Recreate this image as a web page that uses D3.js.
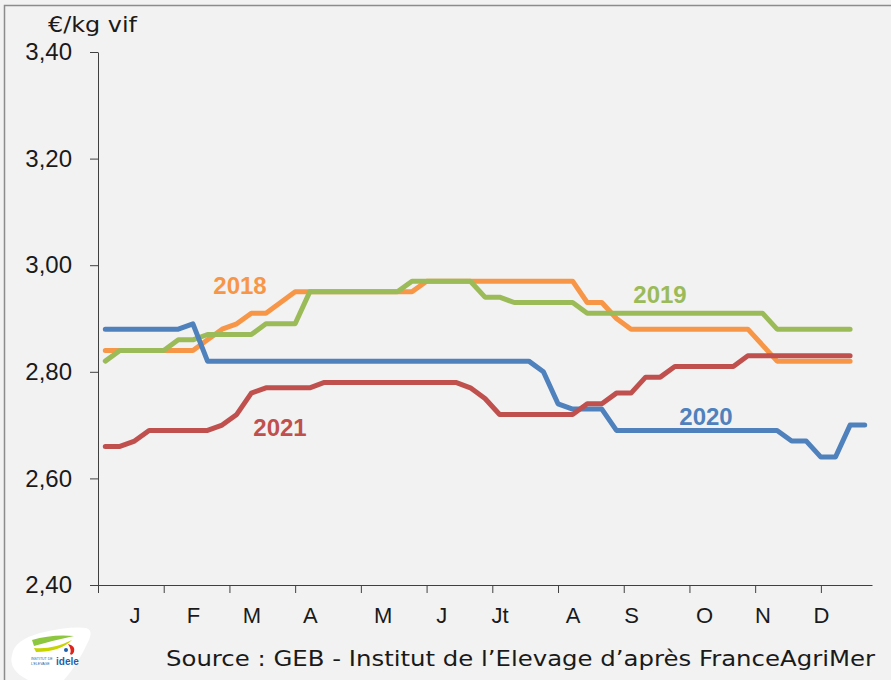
<html>
<script src="https://d3js.org/d3.v7.min.js"></script>
<style>
  body { margin: 0; background: #f2f2f2; }
  text { font-family: "Liberation Sans", Arial, sans-serif; }
  text.wide { font-family: "DejaVu Sans", sans-serif; }
</style>
<body>
<svg class="chart" width="891" height="680"></svg>
<script>
// weekly prices, euro per kg live weight
var weeks = d3.range(1, 54);

var y2018 = [2.84, 2.84, 2.84, 2.84, 2.84, 2.84, 2.84, 2.86, 2.88, 2.89,
             2.91, 2.91, 2.93, 2.95, 2.95, 2.95, 2.95, 2.95, 2.95, 2.95,
             2.95, 2.95, 2.97, 2.97, 2.97, 2.97, 2.97, 2.97, 2.97, 2.97,
             2.97, 2.97, 2.97, 2.93, 2.93, 2.90, 2.88, 2.88, 2.88, 2.88,
             2.88, 2.88, 2.88, 2.88, 2.88, 2.85, 2.82, 2.82, 2.82, 2.82,
             2.82, 2.82];
var y2019 = [2.82, 2.84, 2.84, 2.84, 2.84, 2.86, 2.86, 2.87, 2.87, 2.87,
             2.87, 2.89, 2.89, 2.89, 2.95, 2.95, 2.95, 2.95, 2.95, 2.95,
             2.95, 2.97, 2.97, 2.97, 2.97, 2.97, 2.94, 2.94, 2.93, 2.93,
             2.93, 2.93, 2.93, 2.91, 2.91, 2.91, 2.91, 2.91, 2.91, 2.91,
             2.91, 2.91, 2.91, 2.91, 2.91, 2.91, 2.88, 2.88, 2.88, 2.88,
             2.88, 2.88];
var y2020 = [2.88, 2.88, 2.88, 2.88, 2.88, 2.88, 2.89, 2.82, 2.82, 2.82,
             2.82, 2.82, 2.82, 2.82, 2.82, 2.82, 2.82, 2.82, 2.82, 2.82,
             2.82, 2.82, 2.82, 2.82, 2.82, 2.82, 2.82, 2.82, 2.82, 2.82,
             2.80, 2.74, 2.73, 2.73, 2.73, 2.69, 2.69, 2.69, 2.69, 2.69,
             2.69, 2.69, 2.69, 2.69, 2.69, 2.69, 2.69, 2.67, 2.67, 2.64,
             2.64, 2.70, 2.70];
var y2021 = [2.66, 2.66, 2.67, 2.69, 2.69, 2.69, 2.69, 2.69, 2.70, 2.72,
             2.76, 2.77, 2.77, 2.77, 2.77, 2.78, 2.78, 2.78, 2.78, 2.78,
             2.78, 2.78, 2.78, 2.78, 2.78, 2.77, 2.75, 2.72, 2.72, 2.72,
             2.72, 2.72, 2.72, 2.74, 2.74, 2.76, 2.76, 2.79, 2.79, 2.81,
             2.81, 2.81, 2.81, 2.81, 2.83, 2.83, 2.83, 2.83, 2.83, 2.83,
             2.83, 2.83];

var yTicks = [2.40, 2.60, 2.80, 3.00, 3.20, 3.40];
var xTicks = [0.5, 5, 9.5, 14, 18.5, 23, 27.5, 32, 36.5, 41, 45.5, 50];
var monthWeeks = [3, 7, 11, 15, 20, 24, 28, 33, 37, 42, 46, 50];
var monthLabels = ["J", "F", "M", "A", "M", "J", "Jt", "A", "S", "O", "N", "D"];

var series = [
  {name: "2018", values: y2018, color: "#f79646", lx: 240, ly: 294},
  {name: "2019", values: y2019, color: "#9bbb59", lx: 660, ly: 303},
  {name: "2020", values: y2020, color: "#4f81bd", lx: 706, ly: 425},
  {name: "2021", values: y2021, color: "#c0504d", lx: 280, ly: 436}
];

var svg = d3.select(".chart");

// frame
svg.append("rect")
  .attr("x", 4.5).attr("y", 5.5)
  .attr("width", 1000).attr("height", 1000)
  .attr("fill", "#f2f2f2")
  .attr("stroke", "#8c8c8c").attr("stroke-width", 1.5);

var x = d3.scaleLinear().domain([0.5, 53.5]).range([98, 872]);
var y = d3.scaleLinear().domain([2.4, 3.4]).range([585, 52]);

var fmt = function(d) { return d3.format(".2f")(d).replace(".", ","); };

// y axis
var gy = svg.append("g")
  .attr("transform", "translate(98,0)")
  .call(d3.axisLeft(y).tickValues(yTicks).tickFormat(fmt).tickSize(8).tickSizeOuter(0).tickPadding(18));
gy.selectAll("text").attr("font-size", 24).attr("fill", "#1a1a1a");

// x axis ticks
var gx = svg.append("g")
  .attr("transform", "translate(0,585)")
  .call(d3.axisBottom(x).tickValues(xTicks).tickFormat("").tickSize(8).tickSizeOuter(0));

// month labels
var gm = svg.append("g")
  .attr("transform", "translate(0,585)")
  .call(d3.axisBottom(x).tickValues(monthWeeks)
    .tickFormat(function(d, i) { return monthLabels[i]; }).tickSize(0).tickPadding(22));
gm.select(".domain").remove();
gm.selectAll("text").attr("font-size", 22).attr("fill", "#1a1a1a");

svg.selectAll(".domain, .tick line").attr("stroke", "#404040");

// lines
var line = d3.line()
  .x(function(d, i) { return x(weeks[i]); })
  .y(function(d) { return y(d); });

series.forEach(function(s) {
  svg.append("path")
    .datum(s.values)
    .attr("fill", "none")
    .attr("stroke", s.color)
    .attr("stroke-width", 5)
    .attr("stroke-linejoin", "round")
    .attr("stroke-linecap", "round")
    .attr("d", line);
});

series.forEach(function(s) {
  svg.append("text")
    .attr("x", s.lx).attr("y", s.ly)
    .attr("text-anchor", "middle")
    .attr("font-size", 24).attr("font-weight", "bold")
    .attr("fill", s.color)
    .text(s.name);
});

// unit
svg.append("text")
  .attr("class", "wide")
  .attr("x", 48).attr("y", 32)
  .attr("font-size", 22).attr("fill", "#1a1a1a")
  .attr("textLength", 89).attr("lengthAdjust", "spacingAndGlyphs")
  .text("€/kg vif");

// source
svg.append("text")
  .attr("class", "wide")
  .attr("x", 166).attr("y", 666)
  .attr("font-size", 22).attr("fill", "#1a1a1a")
  .attr("textLength", 709).attr("lengthAdjust", "spacingAndGlyphs")
  .text("Source : GEB - Institut de l\u2019Elevage d\u2019après FranceAgriMer");

// logo
var logo = svg.append("g");
logo.append("path")
  .attr("d", "M12,655 Q14,640 40,633 Q70,626 86,628 Q94,630 88,642 Q78,664 64,680 L28,680 Q8,670 12,655 Z")
  .attr("fill", "#ffffff");
logo.append("path")
  .attr("d", "M32,640 Q52,634 74,636 Q55,640 34,646 Z")
  .attr("fill", "#8dc63f");
logo.append("path")
  .attr("d", "M34,648 Q52,650 72,640 Q60,652 36,652 Z")
  .attr("fill", "#c8d400");
logo.append("path")
  .attr("d", "M68,644 Q76,646 74,652 Q72,656 70,654 Q72,650 68,644 Z")
  .attr("fill", "#e2231a");
logo.append("circle").attr("cx", 66).attr("cy", 650).attr("r", 2).attr("fill", "#1f5fa8");
logo.append("text")
  .attr("x", 56).attr("y", 665)
  .attr("font-size", 10).attr("font-weight", "bold")
  .attr("fill", "#1f5fa8")
  .text("idele");
logo.append("text")
  .attr("x", 31).attr("y", 660)
  .attr("font-size", 3.5)
  .attr("fill", "#1f5fa8")
  .text("INSTITUT DE");
logo.append("text")
  .attr("x", 31).attr("y", 665)
  .attr("font-size", 3.5)
  .attr("fill", "#1f5fa8")
  .text("L\u2019ELEVAGE");
</script>
</body>
</html>
